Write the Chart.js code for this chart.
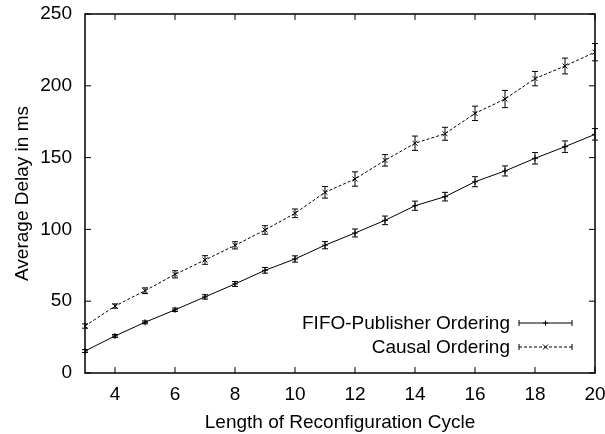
<!DOCTYPE html>
<html>
<head>
<meta charset="utf-8">
<script src="https://cdn.jsdelivr.net/npm/chart.js@4.4.0/dist/chart.umd.min.js"></script>
<style>
  html, body { margin: 0; padding: 0; background: #fff; }
  #wrap { width: 605px; height: 434px; }
</style>
</head>
<body>
<div id="wrap"><canvas id="delayChart"></canvas></div>
<script>
// cycle length on x
const cycleLength = [3, 4, 5, 6, 7, 8, 9, 10, 11, 12, 13, 14, 15, 16, 17, 18, 19, 20];
const fifoDelay   = [15.3, 25.8, 35.3, 44, 53, 62, 71.5, 79.4, 89, 97.5, 106.3, 116.5, 122.8, 133.2, 140.7, 149.5, 157.6, 166.2];
const fifoErr     = [1, 1, 1, 1.2, 1.5, 1.7, 2, 2.2, 2.5, 2.8, 3, 3.2, 3, 3.5, 3.5, 4, 4, 4];
const causalDelay = [32.7, 46.6, 57.3, 68.7, 78.7, 88.9, 99.6, 111.2, 125.8, 135.1, 148.1, 160, 166.6, 180.8, 190.8, 205, 213.8, 223.4];
const causalErr   = [1.5, 1.5, 2, 2.5, 3, 2.5, 3, 3, 4, 5, 4, 5, 4.5, 5, 6, 5, 5.5, 6];
const xTicks = [4, 6, 8, 10, 12, 14, 16, 18, 20];
const yTicks = [0, 50, 100, 150, 200, 250];
const seriesNames = ['FIFO-Publisher Ordering', 'Causal Ordering'];

const FONT = 'Liberation Sans, Arial, Helvetica, sans-serif';
const FSIZE = 19;

function toPoints(ys) {
    return cycleLength.map((x, i) => ({x: x, y: ys[i]}));
}

// error bars, frame with inward ticks, legend in lower right
const gnuplotBits = {
    id: 'gnuplotBits',
    afterDatasetsDraw(chart) {
        const ctx = chart.ctx;
        const xs = chart.scales.x, ys = chart.scales.y;
        const errs = [fifoErr, causalErr];
        ctx.save();
        ctx.strokeStyle = '#000';
        ctx.lineWidth = 1;
        ctx.setLineDash([]);
        chart.data.datasets.forEach((ds, d) => {
            ds.data.forEach((p, i) => {
                const px = xs.getPixelForValue(p.x);
                const y1 = ys.getPixelForValue(p.y - errs[d][i]);
                const y2 = ys.getPixelForValue(p.y + errs[d][i]);
                ctx.beginPath();
                ctx.moveTo(px, y1); ctx.lineTo(px, y2);
                ctx.moveTo(px - 3, y1); ctx.lineTo(px + 3, y1);
                ctx.moveTo(px - 3, y2); ctx.lineTo(px + 3, y2);
                ctx.stroke();
            });
        });

        const a = chart.chartArea;
        ctx.lineWidth = 1.5;
        ctx.strokeRect(a.left, a.top, a.right - a.left, a.bottom - a.top);
        ctx.lineWidth = 1;
        ctx.beginPath();
        xTicks.forEach((v) => {
            const px = xs.getPixelForValue(v);
            ctx.moveTo(px, a.bottom); ctx.lineTo(px, a.bottom - 6);
            ctx.moveTo(px, a.top); ctx.lineTo(px, a.top + 6);
        });
        yTicks.forEach((v) => {
            const py = ys.getPixelForValue(v);
            ctx.moveTo(a.left, py); ctx.lineTo(a.left + 6, py);
            ctx.moveTo(a.right, py); ctx.lineTo(a.right - 6, py);
        });
        ctx.stroke();

        // legend
        ctx.font = FSIZE + 'px ' + FONT;
        ctx.fillStyle = '#000';
        ctx.textAlign = 'right';
        ctx.textBaseline = 'middle';
        const rows = [323, 347];
        rows.forEach((ry, k) => {
            ctx.fillText(seriesNames[k], 510, ry + 1);
            const x1 = 519, x2 = 572;
            ctx.setLineDash(k === 0 ? [] : [3, 2]);
            ctx.beginPath();
            ctx.moveTo(x1, ry); ctx.lineTo(x2, ry);
            ctx.stroke();
            ctx.setLineDash([]);
            ctx.beginPath();
            ctx.moveTo(x1, ry - 3); ctx.lineTo(x1, ry + 3);
            ctx.moveTo(x2, ry - 3); ctx.lineTo(x2, ry + 3);
            const mx = (x1 + x2) / 2;
            if (k === 0) {
                ctx.moveTo(mx - 2.5, ry); ctx.lineTo(mx + 2.5, ry);
                ctx.moveTo(mx, ry - 2.5); ctx.lineTo(mx, ry + 2.5);
            } else {
                ctx.moveTo(mx - 2.5, ry - 2.5); ctx.lineTo(mx + 2.5, ry + 2.5);
                ctx.moveTo(mx - 2.5, ry + 2.5); ctx.lineTo(mx + 2.5, ry - 2.5);
            }
            ctx.stroke();
        });
        ctx.restore();
    }
};

const ctx = document.getElementById('delayChart').getContext('2d');
const delayChart = new Chart(ctx, {
    type: 'line',
    data: {
        datasets: [{
            label: seriesNames[0],
            data: toPoints(fifoDelay),
            borderColor: '#000',
            backgroundColor: '#000',
            borderWidth: 1,
            pointStyle: 'cross',
            pointRadius: 3,
            pointBorderWidth: 1,
            tension: 0,
        }, {
            label: seriesNames[1],
            data: toPoints(causalDelay),
            borderColor: '#000',
            backgroundColor: '#000',
            borderWidth: 1,
            borderDash: [3, 2],
            pointStyle: 'crossRot',
            pointRadius: 3.5,
            pointBorderWidth: 1,
            tension: 0,
        }],
    },
    options: {
        responsive: true,
        maintainAspectRatio: false,
        animation: false,
        layout: {padding: {top: 14, right: 10, left: 0, bottom: 0}},
        plugins: {legend: {display: false}, tooltip: {enabled: false}},
        scales: {
            x: {
                type: 'linear',
                min: 3, max: 20,
                afterBuildTicks: (scale) => { scale.ticks = xTicks.map((v) => ({value: v})); },
                afterFit: (scale) => {
                    scale.height = 61;
                    scale.paddingLeft = 0;
                    scale.paddingRight = 0;
                },
                grid: {display: false, drawTicks: false},
                border: {display: false},
                ticks: {color: '#000', padding: 10, maxRotation: 0, font: {family: FONT, size: FSIZE}},
                title: {display: true, text: 'Length of Reconfiguration Cycle', color: '#000',
                        font: {family: FONT, size: FSIZE}, padding: {top: 4, bottom: 0}},
            },
            y: {
                min: 0, max: 250,
                afterBuildTicks: (scale) => { scale.ticks = yTicks.map((v) => ({value: v})); },
                afterFit: (scale) => {
                    scale.width = 85;
                    scale.paddingTop = 0;
                    scale.paddingBottom = 0;
                },
                grid: {display: false, drawTicks: false},
                border: {display: false},
                ticks: {color: '#000', padding: 13, font: {family: FONT, size: FSIZE}},
                title: {display: true, text: 'Average Delay in ms', color: '#000',
                        font: {family: FONT, size: FSIZE}, padding: {top: 11, bottom: 0}},
            },
        },
    },
    plugins: [gnuplotBits],
});
</script>
</body>
</html>
